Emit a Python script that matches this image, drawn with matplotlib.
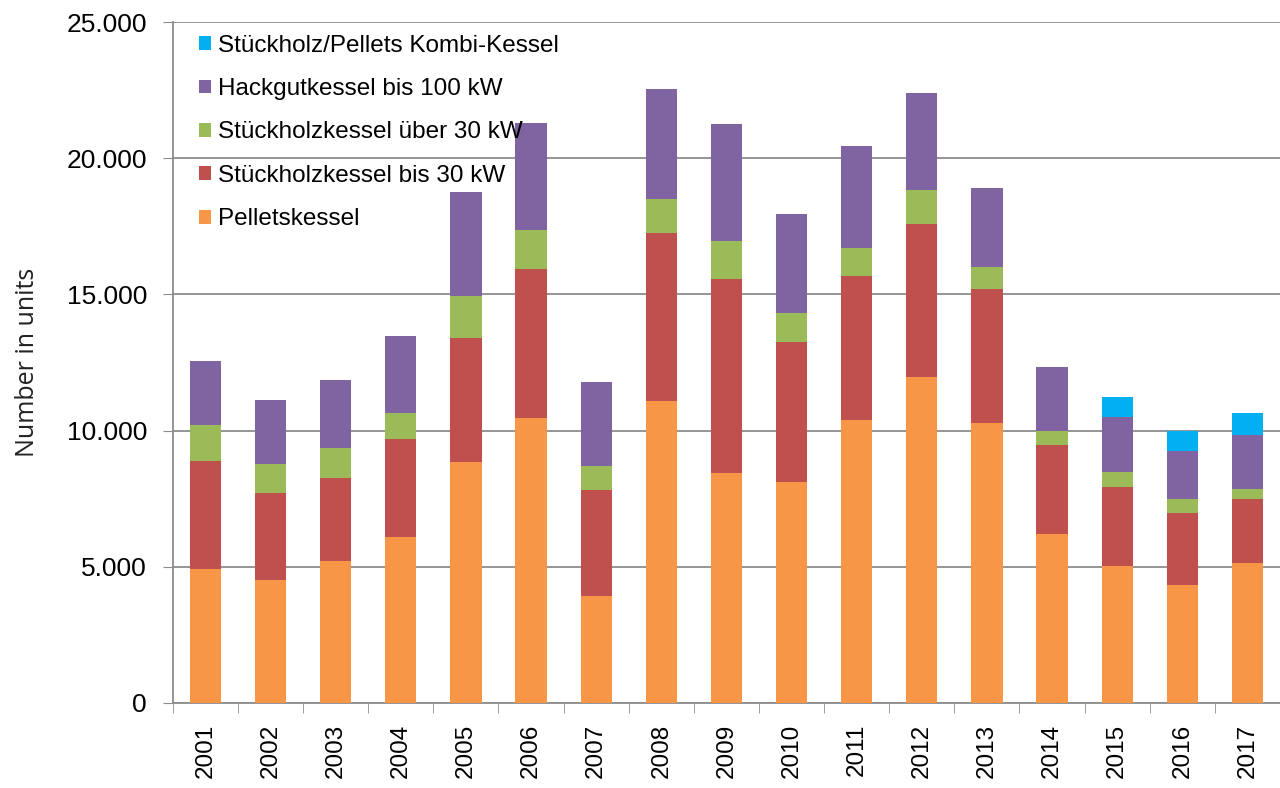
import numpy as np
import matplotlib
matplotlib.use("Agg")
import matplotlib.pyplot as plt

years = [str(y) for y in range(2001, 2018)]

pellets = [4910, 4510, 5210, 6080, 8860, 10465, 3920, 11080, 8430, 8110,
           10380, 11950, 10270, 6200, 5040, 4340, 5120]
stueck_bis30 = [3975, 3210, 3060, 3625, 4530, 5450, 3900, 6170, 7130, 5125,
                5305, 5650, 4910, 3270, 2900, 2635, 2370]
stueck_ueber30 = [1335, 1040, 1080, 930, 1545, 1460, 895, 1265, 1395, 1075,
                  1030, 1235, 820, 530, 540, 515, 380]
hackgut = [2350, 2370, 2525, 2855, 3825, 3920, 3075, 4030, 4315, 3655,
           3725, 3555, 2905, 2325, 2020, 1775, 1975]
kombi = [0, 0, 0, 0, 0, 0, 0, 0, 0, 0, 0, 0, 0, 0, 750, 725, 795]

series = [
    ("Pelletskessel", pellets, "#F79646"),
    ("Stückholzkessel bis 30 kW", stueck_bis30, "#C0504D"),
    ("Stückholzkessel über 30 kW", stueck_ueber30, "#9BBB59"),
    ("Hackgutkessel bis 100 kW", hackgut, "#8064A2"),
    ("Stückholz/Pellets Kombi-Kessel", kombi, "#00B0F0"),
]

plt.rcParams['font.family'] = ['Liberation Sans', 'DejaVu Sans']

fig = plt.figure(figsize=(12.8, 7.88), dpi=100)
ax = fig.add_axes([0.135, 0.108, 0.865, 0.864])

x = np.arange(len(years))
bottom = np.zeros(len(years))
handles = []
for name, vals, col in series:
    vals = np.array(vals, dtype=float)
    b = ax.bar(x, vals, 0.48, bottom=bottom, color=col, label=name, zorder=3)
    handles.append(b)
    bottom += vals

ax.set_ylim(0, 25000)
ax.set_xlim(-0.5, 16.27)
ax.set_yticks(range(0, 25001, 5000))
ax.set_yticklabels(["0", "5.000", "10.000", "15.000", "20.000", "25.000"], fontsize=19)
ax.yaxis.grid(True, color="#8c8c8c", linewidth=1.3, zorder=0)

ax.set_xticks(x)
ax.set_xticklabels(years, rotation=90, fontsize=17.5)
ax.set_xticks(np.arange(-0.5, 16.6, 1), minor=True)
ax.tick_params(axis="x", which="major", length=0, pad=15)
ax.tick_params(axis="x", which="minor", length=7, color="#8c8c8c", direction="out")
ax.tick_params(axis="y", length=7.5, color="#8c8c8c", direction="out", pad=11)

for s in ["top", "right"]:
    ax.spines[s].set_visible(False)
ax.spines["left"].set_color("#8c8c8c")
ax.spines["bottom"].set_color("#8c8c8c")
ax.spines["left"].set_linewidth(1.3)
ax.spines["bottom"].set_linewidth(1.3)

ax.set_ylabel("Number in units", fontsize=18, family=["Open Sans", "DejaVu Sans"],
              color="#222222")
ax.yaxis.set_label_coords(-0.120, 0.5)

ax.legend(handles[::-1], [s[0] for s in series][::-1], loc="upper left",
          bbox_to_anchor=(0.012, 1.0), frameon=False, fontsize=17.5,
          handlelength=0.5, handleheight=0.5, handletextpad=0.3,
          labelspacing=0.88, borderaxespad=0.12)

fig.savefig("out.png", dpi=100)
